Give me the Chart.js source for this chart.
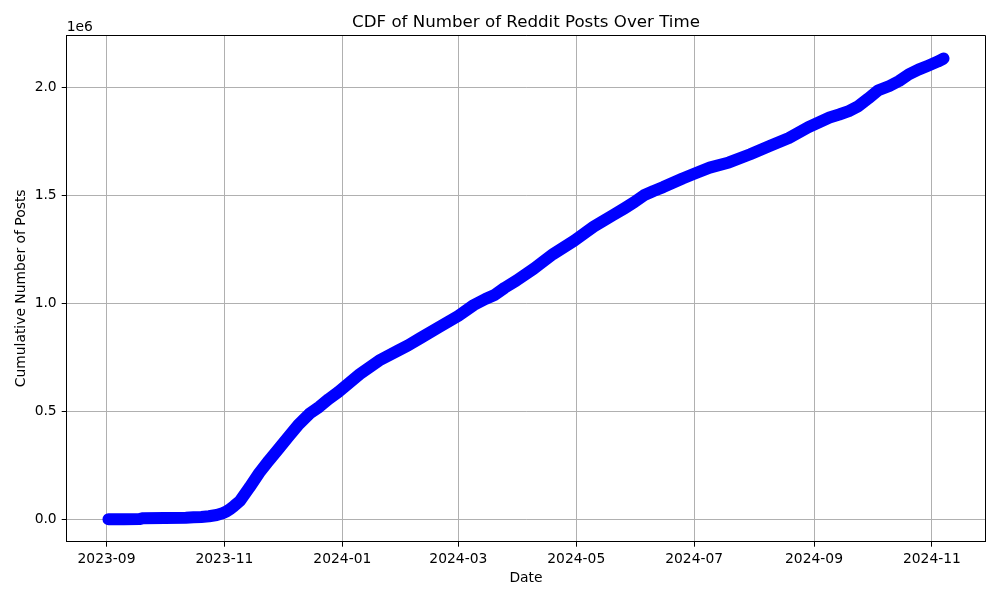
<!DOCTYPE html>
<html><head><meta charset="utf-8">
<script src="https://cdn.jsdelivr.net/npm/chart.js@4.4.1/dist/chart.umd.min.js"></script>
<style>html,body{margin:0;padding:0;background:#fff}#wrap{width:1000px;height:600px}</style>
</head><body><div id="wrap"><canvas id="c" width="1000" height="600"></canvas></div>
<script>
const dates = ['2023-09-02','2023-09-10','2023-09-18','2023-09-20','2023-10-01','2023-10-12','2023-10-16','2023-10-20','2023-10-24','2023-10-28','2023-10-31','2023-11-02','2023-11-04','2023-11-06','2023-11-09','2023-11-11','2023-11-14','2023-11-19','2023-11-24','2023-11-29','2023-12-04','2023-12-09','2023-12-15','2023-12-20','2023-12-25','2023-12-30','2024-01-10','2024-01-20','2024-01-30','2024-02-04','2024-02-10','2024-02-20','2024-03-01','2024-03-09','2024-03-15','2024-03-20','2024-03-25','2024-03-31','2024-04-09','2024-04-19','2024-04-30','2024-05-05','2024-05-10','2024-05-15','2024-05-20','2024-05-26','2024-05-31','2024-06-05','2024-06-10','2024-06-15','2024-06-20','2024-06-25','2024-07-01','2024-07-09','2024-07-19','2024-07-30','2024-08-09','2024-08-19','2024-08-29','2024-09-09','2024-09-14','2024-09-19','2024-09-24','2024-09-29','2024-10-04','2024-10-10','2024-10-15','2024-10-20','2024-10-25','2024-10-30','2024-11-04','2024-11-07'];
const cumulativePosts = [0,300,1000,5000,6000,7000,9000,11000,14000,20000,28000,36000,48000,62000,85000,110000,148000,215000,272000,326000,381000,435000,489000,520000,557000,590000,672000,735000,782000,805000,837000,890000,942000,992000,1020000,1040000,1072000,1105000,1160000,1228000,1290000,1322000,1355000,1382000,1408000,1440000,1468000,1500000,1520000,1538000,1558000,1578000,1600000,1628000,1652000,1690000,1728000,1765000,1815000,1860000,1874000,1890000,1913000,1948000,1985000,2006000,2029000,2060000,2082000,2100000,2119000,2133000];
const xTickLabels = ['2023-09','2023-11','2024-01','2024-03','2024-05','2024-07','2024-09','2024-11'];
const yTickValues = [0, 500000, 1000000, 1500000, 2000000];
const yTickLabels = ['0.0','0.5','1.0','1.5','2.0'];
const yAxisLimits = [-103700, 2242100];
const titleText = 'CDF of Number of Reddit Posts Over Time';
const xAxisLabel = 'Date';
const yAxisLabel = 'Cumulative Number of Posts';
const yOffsetText = '1e6';

const BASE = Date.UTC(2023, 8, 1);
function dayOf(s){ const p = s.split('-').map(Number); return (Date.UTC(p[0], p[1]-1, p[2] || 1) - BASE) / 86400000; }

const xs = dates.map(dayOf);
const xMinD = Math.min(...xs), xMaxD = Math.max(...xs), xR = xMaxD - xMinD;
const points = xs.map((x, i) => ({x: x, y: cumulativePosts[i]}));
const xTickPos = xTickLabels.map(dayOf);

Chart.defaults.font.family = '"DejaVu Sans", sans-serif';
Chart.defaults.color = '#000';

const decor = {
  id: 'decor',
  afterDraw(chart){
    const {ctx, chartArea: a} = chart;
    ctx.save();
    ctx.strokeStyle = '#000'; ctx.lineWidth = 1;
    const t = Math.floor(a.top) + 0.5, r = Math.floor(a.right) + 0.5;
    ctx.beginPath();
    ctx.moveTo(a.left, t); ctx.lineTo(r, t); ctx.lineTo(r, a.bottom);
    ctx.stroke();
    ctx.fillStyle = '#000';
    ctx.font = '16.67px "DejaVu Sans"';
    ctx.textAlign = 'center'; ctx.textBaseline = 'middle';
    ctx.fillText(titleText, (a.left + a.right) / 2, 23);
    ctx.font = '13.89px "DejaVu Sans"';
    ctx.textAlign = 'left';
    ctx.fillText(yOffsetText, a.left, 27);
    ctx.restore();
  }
};

new Chart(document.getElementById('c'), {
  type: 'line',
  data: { datasets: [{
    data: points,
    borderColor: '#0000ff',
    backgroundColor: '#0000ff',
    borderWidth: 12,
    pointRadius: 0,
    tension: 0,
    borderCapStyle: 'round',
    borderJoinStyle: 'round',
    fill: false
  }]},
  options: {
    responsive: false,
    animation: false,
    devicePixelRatio: 1,
    layout: { padding: { left: 0, top: 35, right: 14.7, bottom: 0 } },
    plugins: { legend: { display: false }, tooltip: { enabled: false }, title: { display: false } },
    scales: {
      x: {
        type: 'linear',
        min: xMinD - 0.05 * xR,
        max: xMaxD + 0.05 * xR,
        afterBuildTicks: s => { s.ticks = xTickPos.map(v => ({value: v})); },
        afterFit: s => { s.height = 58.3; },
        ticks: {
          autoSkip: false, maxRotation: 0, padding: 4,
          font: { size: 13.89 },
          callback: (v, i) => xTickLabels[i]
        },
        grid: { color: '#b0b0b0', lineWidth: 1, tickColor: '#000', tickLength: 5, tickWidth: 1 },
        border: { display: true, color: '#000', width: 1 },
        title: { display: true, text: xAxisLabel, font: { size: 13.89 }, padding: { top: 0, bottom: 13.5 } }
      },
      y: {
        type: 'linear',
        min: yAxisLimits[0],
        max: yAxisLimits[1],
        afterBuildTicks: s => { s.ticks = yTickValues.map(v => ({value: v})); },
        afterFit: s => { s.width = 66.7; },
        ticks: {
          padding: 5,
          font: { size: 13.89 },
          callback: (v, i) => yTickLabels[i]
        },
        grid: { color: '#b0b0b0', lineWidth: 1, tickColor: '#000', tickLength: 5, tickWidth: 1 },
        border: { display: true, color: '#000', width: 1 },
        title: { display: true, text: yAxisLabel, font: { size: 13.89 }, padding: { top: 13, bottom: 0 } }
      }
    }
  },
  plugins: [decor]
});
</script>
</body></html>
